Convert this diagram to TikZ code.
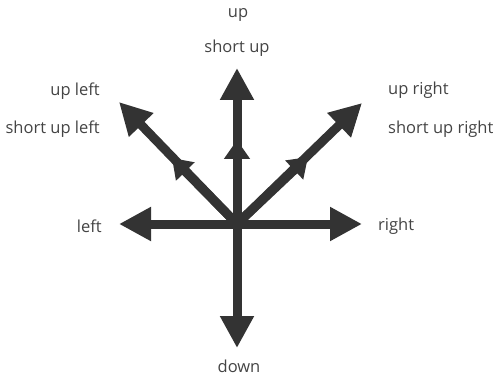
\documentclass[tikz,border=0pt]{standalone}
\usepackage{fontspec}
\setmainfont{Open Sans}
\usetikzlibrary{arrows.meta}
\definecolor{ink}{HTML}{333333}
\definecolor{txt}{HTML}{444444}
\begin{document}
\begin{tikzpicture}[x=1pt, y=-1pt]
  \tikzset{
    shaft/.style={draw=ink, line width=9pt},
    longarr/.style={shaft, -{Triangle[length=32pt, width=32pt, fill=ink]}},
    shortarr/.style={shaft, -{Triangle[length=19pt, width=25pt, fill=ink]}},
    lbl/.style={font=\fontsize{16.5}{19}\selectfont, text=txt, inner sep=0pt},
  }

  \useasboundingbox (0,0) rectangle (498,377);

  % centre and arrow tips
  \coordinate (c) at (237,224);
  \coordinate (tu) at (237,68);
  \coordinate (tsu) at (237,140);
  \coordinate (tul) at (119,102);
  \coordinate (tsul) at (172,158);
  \coordinate (tur) at (362,103);
  \coordinate (tsur) at (308,157);
  \coordinate (tl) at (119,224);
  \coordinate (tr) at (362,224);
  \coordinate (td) at (237,348);

  \foreach \t in {tu,tul,tur,tl,tr,td}
    \draw[longarr] (c) -- (\t);
  \foreach \t in {tsu,tsul,tsur}
    \draw[shortarr] (c) -- (\t);

  % labels
  \node[lbl] (lu) at (238,15) {up};
  \node[lbl] (lsu) at (237,48) {short up};
  \node[lbl, anchor=east] (lul) at (100,91) {up left};
  \node[lbl, anchor=east] (lsul) at (100,129) {short up left};
  \node[lbl, anchor=west] (lur) at (388,90) {up right};
  \node[lbl, anchor=west] (lsur) at (388,129) {short up right};
  \node[lbl, anchor=east] (ll) at (102,226) {left};
  \node[lbl, anchor=west] (lr) at (378,226) {right};
  \node[lbl] (ld) at (239,366) {down};
\end{tikzpicture}
\end{document}
